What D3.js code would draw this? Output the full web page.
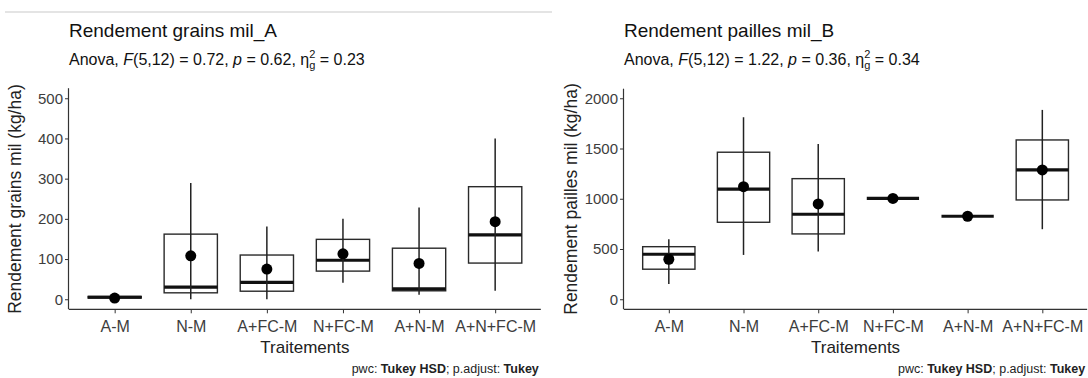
<!DOCTYPE html>
<html>
<head>
<meta charset="utf-8">
<script src="https://cdn.jsdelivr.net/npm/d3@7"></script>
<style>
  body { margin: 0; background: #fff; }
  svg { display: block; font-family: "Liberation Sans", Arial, sans-serif; }
</style>
</head>
<body>
<script>
// treatments on the x axis
var categories = ["A-M", "N-M", "A+FC-M", "N+FC-M", "A+N-M", "A+N+FC-M"];

// Rendement grains mil (kg/ha)
var grainsQ1     = [3, 16, 20, 70, 21, 90];
var grainsMedian = [5, 30, 42, 97, 26, 160];
var grainsQ3     = [7, 162, 110, 149, 127, 280];
var grainsLow    = [5, 0, 0, 41, 11, 21];
var grainsHigh   = [5, 289, 181, 200, 228, 400];
var grainsMean   = [3, 108, 75, 113, 89, 193];
var grainsTicks  = [0, 100, 200, 300, 400, 500];

// Rendement pailles mil (kg/ha)
var paillesQ1     = [299, 766, 650, 1003, 826, 988];
var paillesMedian = [448, 1095, 846, 1003, 826, 1287];
var paillesQ3     = [523, 1463, 1200, 1003, 826, 1585];
var paillesLow    = [152, 441, 474, 1003, 826, 697];
var paillesHigh   = [597, 1811, 1545, 1003, 826, 1884];
var paillesMean   = [398, 1120, 948, 1003, 826, 1287];
var paillesTicks  = [0, 500, 1000, 1500, 2000];

var width = 1088, height = 378;

var svg = d3.select("body").append("svg")
    .attr("width", width)
    .attr("height", height);

// faint rule above the left panel
svg.append("line")
    .attr("x1", 5).attr("x2", 552)
    .attr("y1", 12).attr("y2", 12)
    .attr("stroke", "#e4e4e4")
    .attr("stroke-width", 2);

function zip(i, arrs) {
    return { cat: categories[i], q1: arrs[0][i], med: arrs[1][i], q3: arrs[2][i],
             lo: arrs[3][i], hi: arrs[4][i], mean: arrs[5][i] };
}

function drawPanel(p) {
    var data = categories.map(function(c, i){ return zip(i, p.series); });

    var x = d3.scalePoint()
        .domain(categories)
        .range([p.left + p.step * 0.6, p.left + p.step * 5.6]);

    var y = d3.scaleLinear()
        .domain(p.yDomain)
        .range([309.3, 309.3 - (p.yDomain[1] - p.yDomain[0]) * p.pxPerUnit]);

    var g = svg.append("g");

    // titles
    g.append("text")
        .attr("x", p.left)
        .attr("y", 37)
        .attr("font-size", 19)
        .attr("fill", "#111")
        .text(p.title);

    var sub = g.append("text")
        .attr("x", p.left)
        .attr("y", 65)
        .attr("font-size", 16)
        .attr("fill", "#111");
    sub.append("tspan").text("Anova, ");
    sub.append("tspan").attr("font-style", "italic").text("F");
    sub.append("tspan").text(p.stats[0]);
    sub.append("tspan").attr("font-style", "italic").text("p");
    sub.append("tspan").text(p.stats[1]);
    sub.append("tspan").text("\u03B7");
    sub.append("tspan").attr("font-size", 11).attr("dy", 4).text("g");
    sub.append("tspan").attr("font-size", 11).attr("dx", -6.1).attr("dy", -11).text("2");
    sub.append("tspan").attr("dy", 7).text(p.stats[2]);

    // axes
    var yAxis = d3.axisLeft(y).tickValues(p.ticks).tickFormat(d3.format("d"))
        .tickSize(4).tickPadding(2);
    var ya = g.append("g")
        .attr("transform", "translate(" + p.left + ",0)")
        .call(yAxis);
    ya.select(".domain").attr("d", "M-0.5," + y.range()[1] + "V" + y.range()[0]);

    var xAxis = d3.axisBottom(x).tickSize(4).tickPadding(7);
    var xa = g.append("g")
        .attr("transform", "translate(0,309.3)")
        .call(xAxis);
    xa.select(".domain").attr("d", "M" + p.left + ",0H" + (p.left + p.step * 6.2));

    [ya, xa].forEach(function(a){
        a.selectAll(".domain").attr("stroke", "#333").attr("stroke-width", 1.2);
        a.selectAll(".tick line").attr("stroke", "#333").attr("stroke-width", 1);
        a.selectAll(".tick text")
            .attr("fill", "#3d3d3d")
            .attr("font-family", "Liberation Sans, Arial, sans-serif");
    });
    ya.selectAll(".tick text").attr("font-size", 15);
    xa.selectAll(".tick text").attr("font-size", 16);

    g.append("text")
        .attr("x", p.left + p.step * 3.1)
        .attr("y", 353)
        .attr("text-anchor", "middle")
        .attr("font-size", 17)
        .attr("fill", "#222")
        .text("Traitements");

    g.append("text")
        .attr("transform", "translate(" + p.yLabelX + ",199) rotate(-90)")
        .attr("text-anchor", "middle")
        .attr("font-size", 17.5)
        .attr("fill", "#222")
        .text(p.yLabel);

    var cap = g.append("text")
        .attr("x", p.left + p.step * 6.2 - 2)
        .attr("y", 373)
        .attr("text-anchor", "end")
        .attr("font-size", 12.5)
        .attr("fill", "#222");
    cap.append("tspan").text("pwc: ");
    cap.append("tspan").attr("font-weight", "bold").text("Tukey HSD");
    cap.append("tspan").text("; p.adjust: ");
    cap.append("tspan").attr("font-weight", "bold").text("Tukey");

    // boxes
    var bw = p.step * 0.7;
    var boxes = g.selectAll(".box")
        .data(data)
        .enter()
        .append("g")
        .attr("class", "box");

    boxes.append("rect")
        .attr("x", function(d){ return x(d.cat) - bw / 2; })
        .attr("y", function(d){ return y(d.q3); })
        .attr("width", bw)
        .attr("height", function(d){ return Math.max(0, y(d.q1) - y(d.q3)); })
        .attr("fill", "none")
        .attr("stroke", "#2a2a2a")
        .attr("stroke-width", 1.4);

    boxes.append("line")
        .attr("x1", function(d){ return x(d.cat) - bw / 2; })
        .attr("x2", function(d){ return x(d.cat) + bw / 2; })
        .attr("y1", function(d){ return y(d.med); })
        .attr("y2", function(d){ return y(d.med); })
        .attr("stroke", "#111")
        .attr("stroke-width", 3.2);

    boxes.append("line")
        .attr("x1", function(d){ return x(d.cat); })
        .attr("x2", function(d){ return x(d.cat); })
        .attr("y1", function(d){ return y(d.lo); })
        .attr("y2", function(d){ return y(d.hi); })
        .attr("stroke", "#222")
        .attr("stroke-width", 1.5);

    boxes.append("circle")
        .attr("cx", function(d){ return x(d.cat); })
        .attr("cy", function(d){ return y(d.mean); })
        .attr("r", 5.5)
        .attr("fill", "#000");
}

drawPanel({
    left: 69, step: 76.1,
    yDomain: [-25, 525], pxPerUnit: 0.402,
    ticks: grainsTicks,
    series: [grainsQ1, grainsMedian, grainsQ3, grainsLow, grainsHigh, grainsMean],
    title: "Rendement grains mil_A",
    stats: ["(5,12) = 0.72, ", " = 0.62, ", " = 0.23"],
    yLabel: "Rendement grains mil (kg/ha)",
    yLabelX: 21
});

drawPanel({
    left: 624, step: 74.7,
    yDomain: [-100, 2095], pxPerUnit: 0.1005,
    ticks: paillesTicks,
    series: [paillesQ1, paillesMedian, paillesQ3, paillesLow, paillesHigh, paillesMean],
    title: "Rendement pailles mil_B",
    stats: ["(5,12) = 1.22, ", " = 0.36, ", " = 0.34"],
    yLabel: "Rendement pailles mil (kg/ha)",
    yLabelX: 577
});
</script>
</body>
</html>
